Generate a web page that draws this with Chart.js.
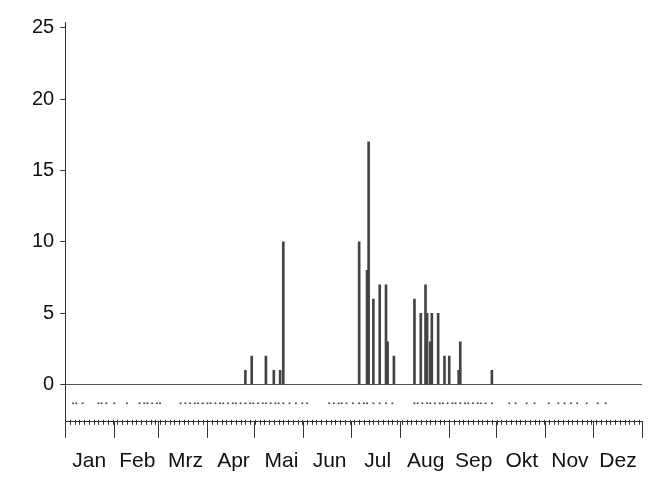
<!DOCTYPE html>
<html>
<head>
<meta charset="utf-8">
<script src="https://cdn.jsdelivr.net/npm/chart.js@4"></script>
<style>
  html, body { margin: 0; padding: 0; background: #fff; }
  #wrap { width: 660px; height: 477px; }
</style>
</head>
<body>
<div id="wrap"><canvas id="chart"></canvas></div>
<script>
// Monatsnamen und Monatsgrenzen (Tag im Jahr)
const months = ['Jan', 'Feb', 'Mrz', 'Apr', 'Mai', 'Jun', 'Jul', 'Aug', 'Sep', 'Okt', 'Nov', 'Dez'];
const monthStarts = [0, 31, 59, 90, 120, 151, 181, 212, 243, 273, 304, 334, 365];
const yTicks = [0, 5, 10, 15, 20, 25];

// Balken: Tag im Jahr und Anzahl
const barDays = [114, 118, 127, 132, 136, 138, 186, 191, 192, 195, 199, 203, 204, 208,
                 221, 225, 228, 229, 231, 232, 236, 240, 243, 249, 250, 270];
const barValues = [1, 2, 2, 1, 1, 10, 10, 8, 17, 6, 7, 7, 3, 2,
                   6, 5, 7, 5, 3, 5, 5, 2, 2, 1, 3, 1];

// Punktreihe unter der Nulllinie (Beobachtungstage)
const dotDays = [5, 7, 11, 21, 23, 26, 31, 39, 47, 50, 52, 55, 58, 60,
                 73, 76, 79, 82, 84, 87, 90, 92, 95, 98, 100, 103, 106, 108, 111, 114,
                 117, 119, 122, 125, 127, 130, 133, 135, 138, 142, 146, 150, 153,
                 167, 170, 173, 175, 178, 182, 186, 189, 191, 195, 199, 203, 207,
                 221, 223, 226, 229, 231, 234, 237, 239, 242, 245, 247, 250, 253, 255, 258, 261, 263, 266,
                 270, 281, 285, 292, 297, 306, 312, 316, 320, 324, 330, 337, 342];
const dotLevel = -1.3;

const minorTicks = {
  id: 'minorTicks',
  afterDraw(chart) {
    const x = chart.scales.x, y = chart.scales.y, ctx = chart.ctx;
    const yb = y.getPixelForValue(y.min);
    ctx.save();
    ctx.strokeStyle = '#333';
    ctx.lineWidth = 1;
    ctx.beginPath();
    for (let d = 0; d <= 365; d += 3) {
      const px = Math.round(x.getPixelForValue(d)) + 0.5;
      ctx.moveTo(px, yb - 2);
      ctx.lineTo(px, yb + 3);
    }
    ctx.stroke();
    ctx.restore();
  }
};

new Chart(document.getElementById('chart'), {
  data: {
    datasets: [
      {
        type: 'bar',
        data: barDays.map((d, i) => ({ x: d, y: barValues[i] })),
        backgroundColor: '#444',
        barThickness: 2,
        xAxisID: 'x'
      },
      {
        type: 'scatter',
        data: dotDays.map(d => ({ x: d, y: dotLevel })),
        backgroundColor: '#555',
        pointRadius: 1.1,
        pointBorderWidth: 0,
        xAxisID: 'x'
      }
    ]
  },
  options: {
    responsive: true,
    maintainAspectRatio: false,
    animation: false,
    layout: { padding: { top: 22, right: 18, left: 26, bottom: 0 } },
    plugins: { legend: { display: false }, tooltip: { enabled: false } },
    scales: {
      x: {
        type: 'linear',
        offset: false,
        min: 0, max: 365,
        afterBuildTicks: s => { s.ticks = monthStarts.map(v => ({ value: v })); },
        ticks: { display: false },
        grid: { offset: false, drawOnChartArea: false, color: '#333', tickLength: 16, tickWidth: 1 },
        border: { color: '#333', width: 1 }
      },
      months: {
        type: 'category',
        labels: months,
        position: 'bottom',
        offset: true,
        grid: { display: false },
        border: { display: false },
        ticks: { color: '#111', font: { family: 'Liberation Sans', size: 21 }, padding: 3, maxRotation: 0, autoSkip: false }
      },
      y: {
        min: -2.6, max: 25.4,
        afterBuildTicks: s => { s.ticks = yTicks.map(v => ({ value: v })); },
        ticks: { color: '#111', font: { family: 'Liberation Sans', size: 20 }, padding: 6 },
        grid: {
          color: c => c.tick && c.tick.value === 0 ? '#555' : 'rgba(0,0,0,0)',
          tickColor: '#333',
          tickLength: 5
        },
        border: { color: '#333', width: 1 }
      }
    }
  },
  plugins: [minorTicks]
});
</script>
</body>
</html>
